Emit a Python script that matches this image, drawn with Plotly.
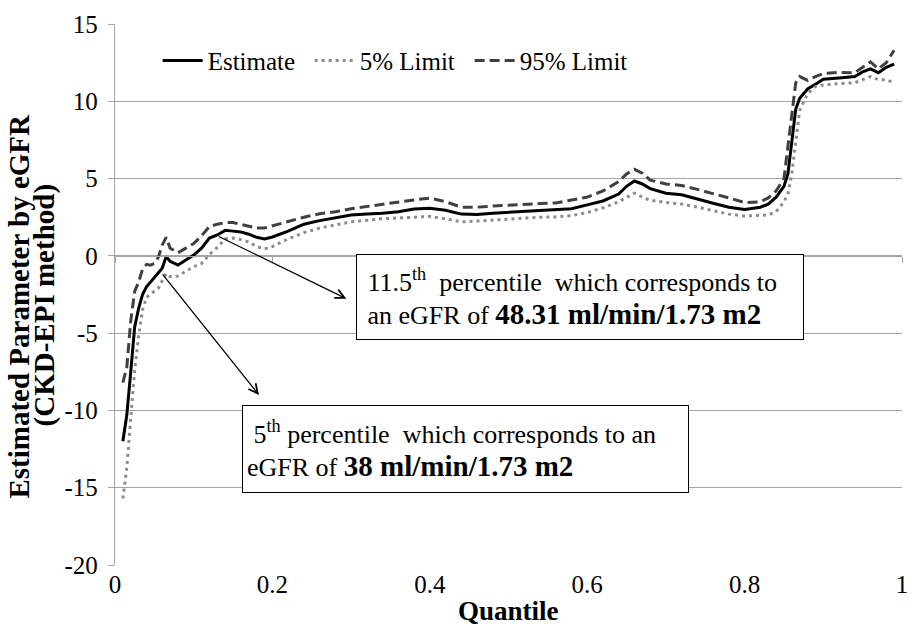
import plotly.graph_objects as go

# ---------------- data ----------------
quantile = [0.01, 0.015, 0.02, 0.025, 0.03, 0.035, 0.04, 0.045, 0.05, 0.055, 0.06, 0.065,
            0.07, 0.08, 0.09, 0.10, 0.11, 0.12, 0.13, 0.14, 0.15, 0.16, 0.17, 0.18, 0.19, 0.20,
            0.22, 0.24, 0.26, 0.28, 0.30, 0.32, 0.34, 0.36, 0.38, 0.40, 0.42, 0.44, 0.46, 0.48,
            0.50, 0.52, 0.54, 0.56, 0.58, 0.60, 0.62, 0.64,
            0.65, 0.66, 0.67, 0.68,
            0.70, 0.72, 0.74, 0.76, 0.78, 0.80, 0.82,
            0.83, 0.84, 0.85,
            0.855, 0.86, 0.865, 0.87,
            0.88, 0.89, 0.90,
            0.92, 0.94,
            0.95, 0.96, 0.97, 0.98, 0.99]

estimate = [-12.0, -10.3, -7.5, -4.6, -3.4, -2.5, -2.0, -1.7, -1.4, -1.1, -0.8, -0.05,
            -0.35, -0.6, -0.25, 0.05, 0.5, 1.15, 1.35, 1.65, 1.6, 1.55, 1.4, 1.2, 1.1, 1.22,
            1.6, 2.05, 2.28, 2.45, 2.65, 2.7, 2.75, 2.85, 3.03, 3.08, 2.95, 2.7, 2.68, 2.76,
            2.82, 2.9, 2.95, 3.0, 3.05, 3.3, 3.55, 4.0,
            4.5, 4.84, 4.65, 4.35,
            4.05, 3.95, 3.65, 3.4, 3.15, 3.0, 3.15,
            3.35, 3.8, 4.5,
            5.3, 7.3, 9.5, 10.2,
            10.8, 11.1, 11.42,
            11.5, 11.6,
            11.9, 12.1, 11.85, 12.2, 12.4]

limit5 = [-15.7, -13.7, -10.5, -7.4, -5.2, -3.5, -2.7, -2.45, -2.3, -2.1, -1.6, -1.15,
          -1.35, -1.3, -1.0, -0.7, -0.5, 0.1, 0.55, 1.1, 1.15, 1.05, 0.9, 0.6, 0.45, 0.6,
          1.1, 1.5, 1.8, 2.0, 2.2, 2.3, 2.4, 2.45, 2.5, 2.55, 2.4, 2.2, 2.25, 2.32,
          2.4, 2.45, 2.5, 2.52, 2.6, 2.8, 3.1, 3.5,
          3.8, 4.06, 3.8, 3.6,
          3.45, 3.35, 3.15, 2.9, 2.7, 2.58, 2.6,
          2.65, 2.85, 3.5,
          4.0, 5.3, 7.4, 9.4,
          10.5, 10.95, 11.05,
          11.15, 11.2,
          11.4, 11.6, 11.4, 11.4, 11.2]

limit95 = [-8.2, -7.2, -4.2, -2.3, -1.7, -0.85, -0.55, -0.6, -0.5, -0.1, 0.7, 1.2,
           0.5, 0.2, 0.5, 0.8, 1.3, 1.9, 2.05, 2.15, 2.15, 2.05, 1.95, 1.8, 1.8, 1.95,
           2.25, 2.5, 2.72, 2.85, 3.05, 3.2, 3.35, 3.5, 3.62, 3.74, 3.5, 3.15, 3.15, 3.22,
           3.28, 3.35, 3.38, 3.42, 3.6, 3.8, 4.2, 4.8,
           5.3, 5.6, 5.35, 4.9,
           4.65, 4.55, 4.3, 4.05, 3.75, 3.45, 3.5,
           3.75, 4.2, 5.0,
           7.0, 9.0, 11.2, 11.6,
           11.35, 11.6, 11.8,
           11.87, 11.85,
           12.2, 12.55, 12.1, 12.5, 13.3]

series_names = ["Estimate", "5% Limit", "95% Limit"]
x_tickvals = [0, 0.2, 0.4, 0.6, 0.8, 1]
x_ticktext = ["0", "0.2", "0.4", "0.6", "0.8", "1"]
y_tickvals = [-20, -15, -10, -5, 0, 5, 10, 15]
y_ticktext = ["-20", "-15", "-10", "-5", "0", "5", "10", "15"]

# annotation anchor points (arrow tail on curve -> arrow head near the box)
arrow1_tail = (0.13, 1.3)
arrow1_head = (0.294, -2.77)
arrow2_tail = (0.059, -1.1)
arrow2_head = (0.183, -9.0)
box1_text = ("&nbsp;11.5<sup>th</sup>&nbsp; percentile&nbsp; which corresponds to<br>"
             "&nbsp;an eGFR of <span style='font-size:29px'><b>48.31 ml/min/1.73 m2</b></span>")
box2_text = ("&nbsp;5<sup>th</sup> percentile&nbsp; which corresponds to an<br>"
             "eGFR of <span style='font-size:29px'><b>38 ml/min/1.73 m2</b></span>")

FONT = "Liberation Serif"
GRID = "#a6a6a6"

fig = go.Figure()
fig.add_trace(go.Scatter(x=quantile, y=estimate, mode="lines", name=series_names[0],
                         line=dict(color="black", width=3), legendwidth=97))
fig.add_trace(go.Scatter(x=quantile, y=limit5, mode="lines", name=series_names[1],
                         line=dict(color="#8c8c8c", width=3, dash="3px,4px"), legendwidth=105))
fig.add_trace(go.Scatter(x=quantile, y=limit95, mode="lines", name=series_names[2],
                         line=dict(color="#404040", width=3, dash="10px,5px")))

fig.update_layout(
    width=919, height=630,
    margin=dict(l=115, r=11, t=22, b=65),
    paper_bgcolor="white", plot_bgcolor="white",
    font=dict(family=FONT, size=25, color="black"),
    showlegend=True,
    legend=dict(orientation="h", x=0.0542, y=0.932, xanchor="left", yanchor="middle",
                font=dict(family=FONT, size=25, color="black"),
                bgcolor="rgba(0,0,0,0)", itemwidth=40),
    xaxis=dict(range=[0, 1], tickvals=x_tickvals, ticktext=x_ticktext,
               showgrid=False, zeroline=False, showline=False, ticks="",
               tickfont=dict(family=FONT, size=25), ticklabelstandoff=2),
    xaxis2=dict(range=[0, 1], overlaying="x", anchor="free", position=20 / 35,
                tickvals=x_tickvals, showticklabels=False, showgrid=False, zeroline=False,
                showline=True, linecolor=GRID, linewidth=1.3,
                ticks="outside", ticklen=6, tickcolor=GRID, tickwidth=1.3),
    yaxis=dict(range=[-20, 15], tickvals=y_tickvals, ticktext=y_ticktext,
               showgrid=True, gridcolor=GRID,
               gridwidth=1.3, zeroline=False, showline=True, linecolor=GRID, linewidth=1.3,
               ticks="outside", ticklen=6, tickcolor=GRID, tickwidth=1.3,
               tickfont=dict(family=FONT, size=25), ticklabelstandoff=5),
)

# invisible anchor trace so xaxis2 is drawn
fig.add_trace(go.Scatter(x=[quantile[0]], y=[estimate[0]], xaxis="x2", mode="markers",
                         marker=dict(opacity=0), showlegend=False, hoverinfo="skip"))

annos = []
# axis titles
annos.append(dict(text="<b>Estimated Parameter by eGFR</b>", xref="paper", yref="paper",
                  x=(18 - 115) / 793, y=0.479, textangle=-90, showarrow=False,
                  xanchor="center", yanchor="middle", font=dict(family=FONT, size=29)))
annos.append(dict(text="<b>(CKD-EPI method)</b>", xref="paper", yref="paper",
                  x=(44 - 115) / 793, y=0.479, textangle=-90, showarrow=False,
                  xanchor="center", yanchor="middle", font=dict(family=FONT, size=29)))
annos.append(dict(text="<b>Quantile</b>", xref="paper", yref="paper",
                  x=0.5, y=(565 - 611) / 543, showarrow=False,
                  xanchor="center", yanchor="middle", font=dict(family=FONT, size=27)))
# arrows
for tail, head in [(arrow1_tail, arrow1_head), (arrow2_tail, arrow2_head)]:
    annos.append(dict(text="", x=head[0], y=head[1], ax=tail[0], ay=tail[1],
                      xref="x", yref="y", axref="x", ayref="y", showarrow=True,
                      arrowhead=5, arrowsize=1.4, arrowwidth=1.3, arrowcolor="black",
                      standoff=0, startstandoff=0))
# boxes
annos.append(dict(text=box1_text, xref="x", yref="y", x=(358 - 115) / 793,
                  y=(255 - 253) / 15.52, xanchor="left", yanchor="top", showarrow=False,
                  align="left", valign="middle", width=438, height=76, borderpad=4,
                  bordercolor="black", borderwidth=1, bgcolor="white",
                  font=dict(family=FONT, size=26, color="black")))
annos.append(dict(text=box2_text, xref="x", yref="y", x=(243 - 115) / 793,
                  y=(255 - 405) / 15.52, xanchor="left", yanchor="top", showarrow=False,
                  align="left", valign="middle", width=437, height=78, borderpad=4,
                  bordercolor="black", borderwidth=1, bgcolor="white",
                  font=dict(family=FONT, size=26, color="black")))
fig.update_layout(annotations=annos)

fig.write_html("out.html", config={"displayModeBar": False},
               post_script="document.body.style.margin='0px';document.body.style.padding='0px';")
